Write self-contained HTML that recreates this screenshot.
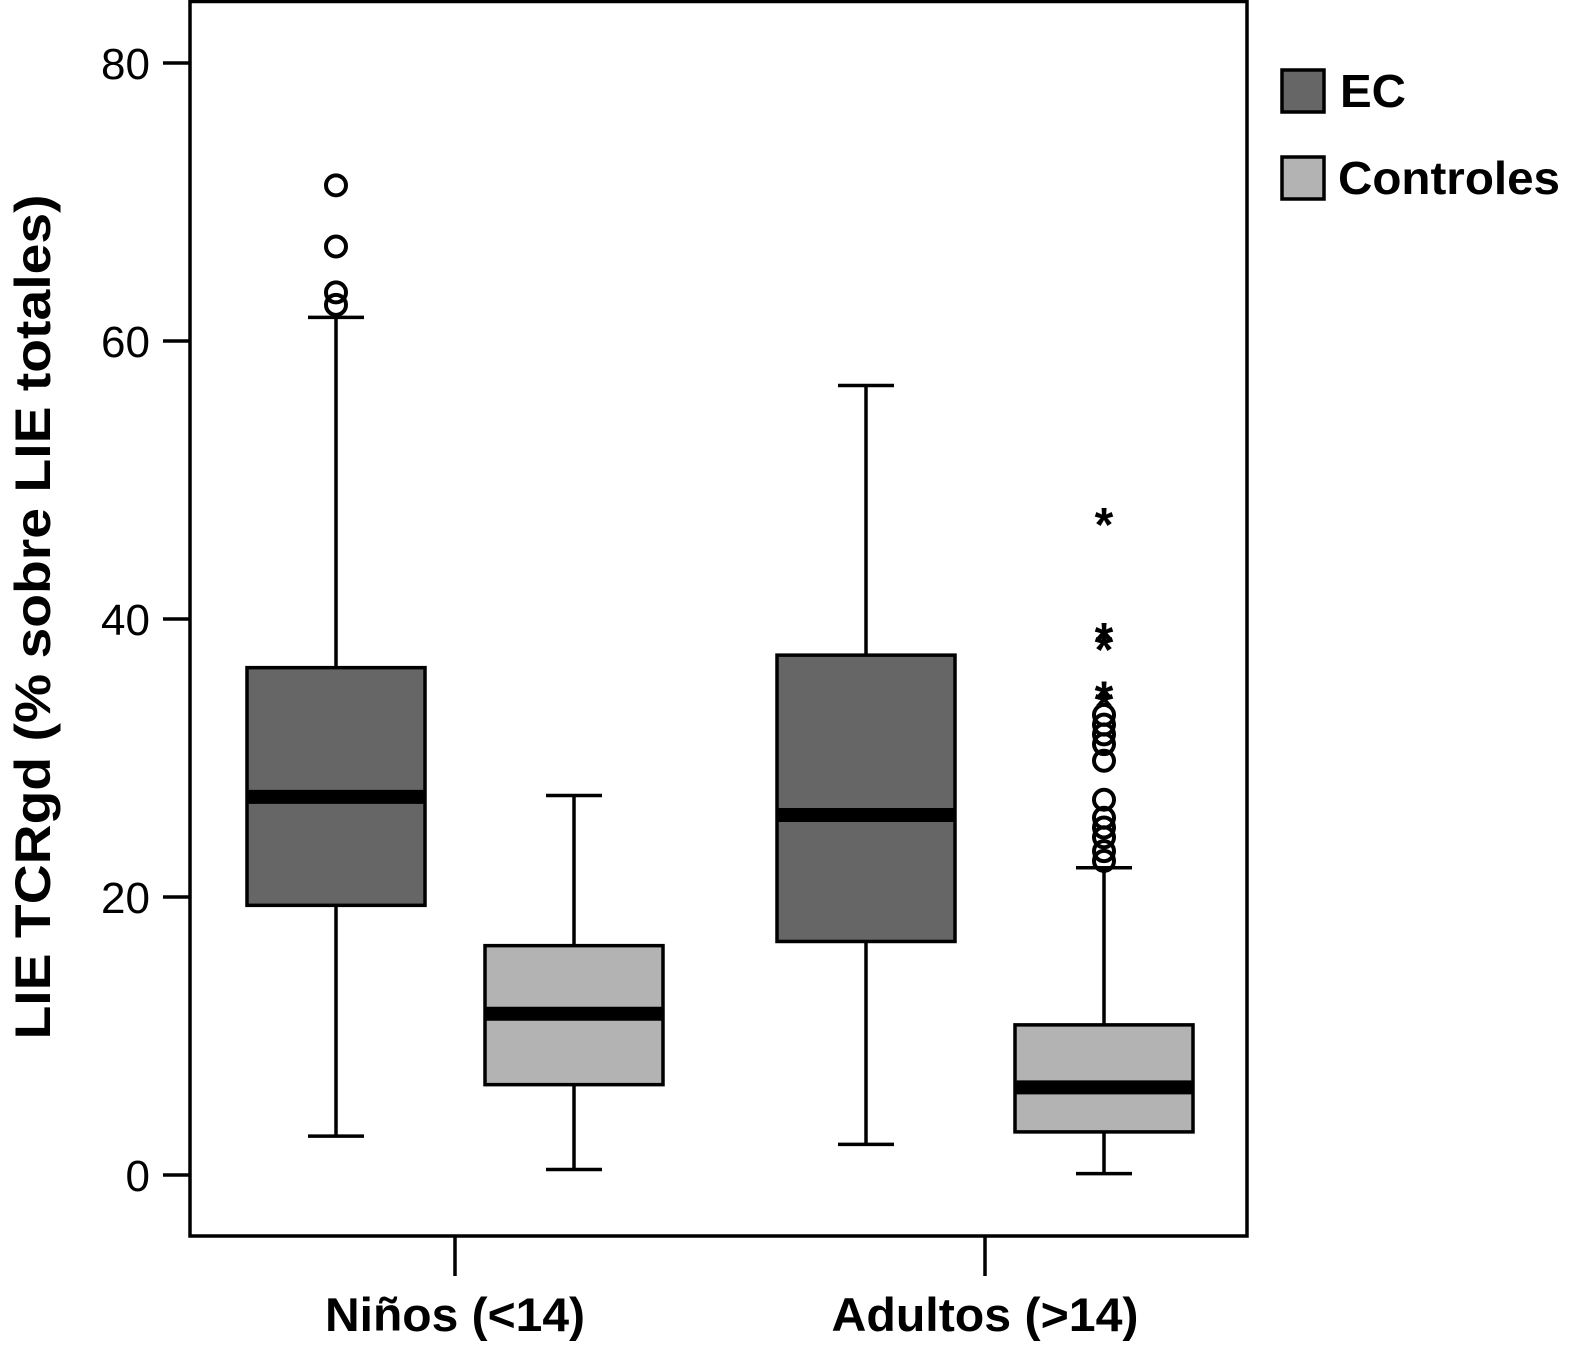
<!DOCTYPE html>
<html><head><meta charset="utf-8"><style>
body{margin:0;background:#fff}
svg{display:block;font-family:"Liberation Sans",Arial,sans-serif}
</style></head><body>
<svg id="c" width="1576" height="1347" viewBox="0 0 1576 1347">
<rect x="190" y="1.5" width="1057" height="1234.5" fill="none" stroke="#000" stroke-width="3.5"/>
<g id="yaxis"></g>
<g id="boxes"></g>
<text transform="translate(50,617) rotate(-90)" text-anchor="middle" font-size="50" font-weight="bold" textLength="845" lengthAdjust="spacingAndGlyphs">LIE TCRgd (% sobre LIE totales)</text>
<g>
<rect x="1282" y="70" width="42" height="42" fill="#666" stroke="#000" stroke-width="3.5"/>
<text x="1340" y="107" font-size="46" font-weight="bold" textLength="66" lengthAdjust="spacingAndGlyphs">EC</text>
<rect x="1282" y="157" width="42" height="42" fill="#b3b3b3" stroke="#000" stroke-width="3.5"/>
<text x="1338" y="194" font-size="46" font-weight="bold" textLength="222" lengthAdjust="spacingAndGlyphs">Controles</text>
</g>
</svg>
<script>
const categories=["Niños (<14)","Adultos (>14)"];
const yTicks=[0,20,40,60,80];
const ecStats=[[2.8,19.4,27.2,36.5,61.7],[2.2,16.8,25.9,37.4,56.8]];
const ctrlStats=[[0.4,6.5,11.6,16.5,27.3],[0.1,3.1,6.3,10.8,22.1]];
const ecOutliers=[[62.6,63.5,66.8,71.2],[]];
const ctrlOutliers=[[],[22.6,23.3,24.3,25.0,25.7,27.0,29.8,31.0,31.7,32.4,33.1]];
const ctrlExtremes=[[],[34.4,35.0,38.5,39.2,47.5]];
const labelLens=[260,307];
const NS="http://www.w3.org/2000/svg";
const svg=document.getElementById('c');
const y=v=>1175-v*13.9;
const catX=i=>455+i*530;
function mk(tag,attrs,parent){const e=document.createElementNS(NS,tag);for(const k in attrs)e.setAttribute(k,attrs[k]);parent.appendChild(e);return e;}
const ya=document.getElementById('yaxis');
yTicks.forEach(t=>{
 const l=mk('line',{x1:163,x2:190,y1:y(t),y2:y(t),stroke:'#000','stroke-width':3.5},ya);
 
 
 const tx=mk('text',{x:150,y:y(t)+16,'text-anchor':'end','font-size':44},ya);
 tx.textContent=t;
 
 
});
categories.forEach((c,i)=>{
 const l=mk('line',{x1:catX(i),x2:catX(i),y1:1236,y2:1276,stroke:'#000','stroke-width':3.5},svg);
 
 
 const t=mk('text',{x:catX(i),y:1331,'text-anchor':'middle','font-size':47,'font-weight':'bold',textLength:labelLens[i],lengthAdjust:'spacingAndGlyphs'},svg);
 t.textContent=c;
 
 
});
const bg=document.getElementById('boxes');
function box(cx,s,fill,name){
 const g=mk('g',{},bg);
 
 
 mk('line',{x1:cx,x2:cx,y1:y(s[0]),y2:y(s[4]),stroke:'#000','stroke-width':3.5},g);
 mk('line',{x1:cx-28,x2:cx+28,y1:y(s[0]),y2:y(s[0]),stroke:'#000','stroke-width':3.5},g);
 mk('line',{x1:cx-28,x2:cx+28,y1:y(s[4]),y2:y(s[4]),stroke:'#000','stroke-width':3.5},g);
 mk('rect',{x:cx-89,y:y(s[3]),width:178,height:y(s[1])-y(s[3]),fill:fill,stroke:'#000','stroke-width':3.5},g);
 mk('line',{x1:cx-88,x2:cx+88,y1:y(s[2]),y2:y(s[2]),stroke:'#000','stroke-width':14},g);
}
function outl(cx,arr){
 arr.forEach(v=>{const c=mk('circle',{cx:cx,cy:y(v),r:10,fill:'none',stroke:'#000','stroke-width':4},bg);
 
 });
}
function ext(cx,arr){
 arr.forEach(v=>{const t=mk('text',{x:cx,y:y(v)+26,'text-anchor':'middle','font-size':48,'font-weight':'bold'},bg);
 t.textContent='*';
 
 });
}
categories.forEach((c,i)=>{
 const cE=catX(i)-119, cC=catX(i)+119;
 box(cE,ecStats[i],'#666','box-ec');
 box(cC,ctrlStats[i],'#b3b3b3','box-controles');
 outl(cE,ecOutliers[i]);outl(cC,ctrlOutliers[i]);ext(cC,ctrlExtremes[i]);
});
</script>
</body></html>
